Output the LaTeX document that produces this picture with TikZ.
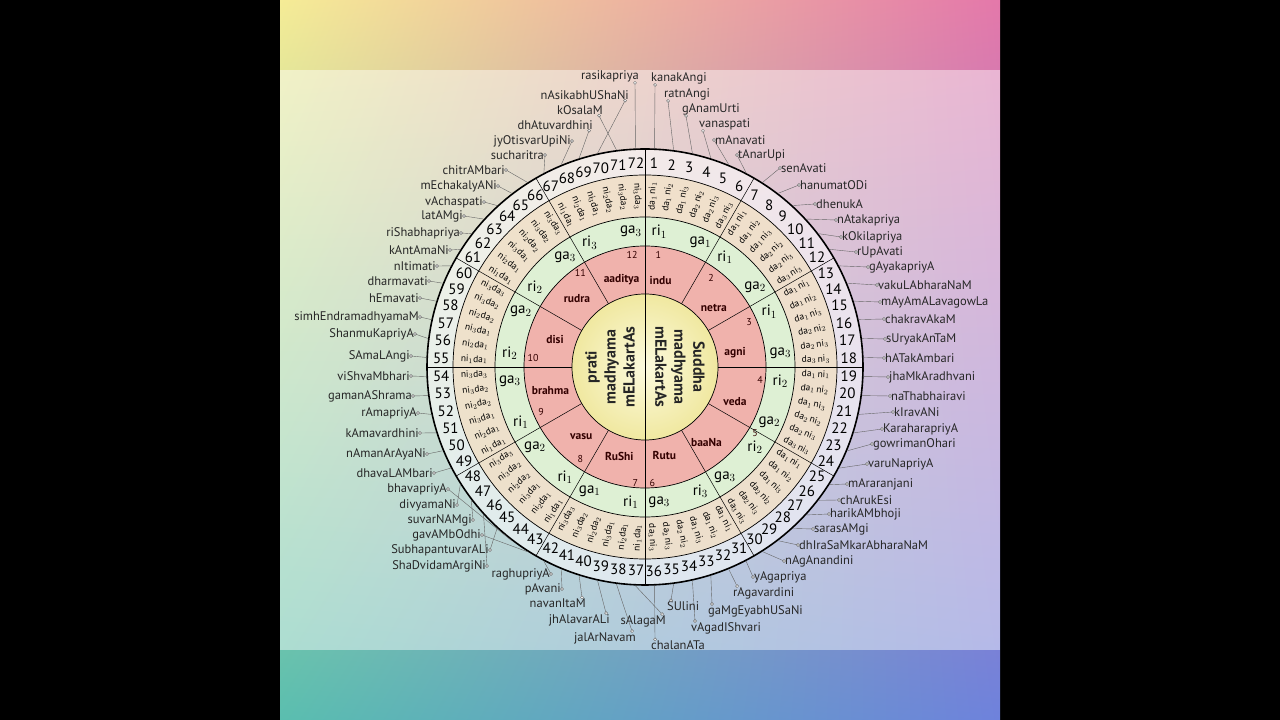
\documentclass[tikz,border=0pt]{standalone}
\usepackage{fontspec}
\setmainfont{PT Sans}
\usetikzlibrary{shadings}
\definecolor{cUL}{RGB}{245,236,150}
\definecolor{cUR}{RGB}{228,120,170}
\definecolor{cLL}{RGB}{90,190,175}
\definecolor{cLR}{RGB}{110,130,220}
\definecolor{ringA}{RGB}{240,222,196}
\definecolor{ringB}{RGB}{222,240,212}
\definecolor{ringC}{RGB}{240,178,172}
\definecolor{cenIn}{RGB}{252,250,222}
\definecolor{cenOut}{RGB}{240,232,160}
\begin{document}
\begin{tikzpicture}[x=1pt,y=1pt,
  lab/.style={inner sep=1pt,font=\fontsize{12.5}{13}\selectfont,text=black!85},
  num/.style={inner sep=0pt,font=\fontsize{15}{16}\selectfont},
  dn/.style={inner sep=0pt,font=\fontsize{9.5}{10}\selectfont},
  rg/.style={inner sep=0pt,font=\fontsize{15}{16}\selectfont},
  cname/.style={inner sep=0pt,font=\bfseries\fontsize{11.5}{12}\selectfont,text=black!80!red},
  cnum/.style={inner sep=0pt,font=\fontsize{10}{11}\selectfont,text=black!80!red},
  ring/.style={line width=0.7pt},
  lead/.style={line width=0.4pt,black!60}]
\useasboundingbox (0,0) rectangle (1280,720);
\fill[black] (0,0) rectangle (1280,720);
\shade[upper left=cUL, upper right=cUR, lower left=cLL, lower right=cLR] (280,0) rectangle (1000,720);
\fill[white,opacity=0.45] (280,70) rectangle (1000,650);
\begin{scope}[shift={(645,353)}]
  \fill[white,opacity=0.55] (0,0) circle (218);
  \fill[ringA,opacity=0.8] (0,0) circle (192);
  \fill[ringB] (0,0) circle (150);
  \fill[ringC] (0,0) circle (121);
  \shade[inner color=cenIn, outer color=cenOut] (0,0) circle (73);
  \draw[line width=1.6pt] (0,0) circle (218);
  \draw[ring] (0,0) circle (192) (0,0) circle (150) (0,0) circle (121) (0,0) circle (73);
  \draw[ring] (0,218) -- (0,-218);
  \draw[ring] (-218,0) -- (-73,0) (73,0) -- (218,0);
  \foreach \t in {30,60,120,150,210,240,300,330} \draw[line width=0.5pt] (\t:73) -- (\t:218);
  \foreach \k in {1,...,72}{
    \pgfmathsetmacro\a{90-(\k-0.5)*5}
    \pgfmathtruncatemacro\j{mod(\k-1,6)}
    \pgfmathtruncatemacro\da{{1,1,1,2,2,3}[\j]}
    \pgfmathtruncatemacro\ni{{1,2,3,2,3,3}[\j]}
    \node[num] (n\k) at (\a:204) {\k};
    \coordinate (e\k) at (\a:219);
    \ifnum\k<37
      \node[dn,rotate=\a] (d\k) at (\a:171) {da$_{\da}$\,ni$_{\ni}$};
    \else
      \pgfmathsetmacro\b{\a+180}
      \node[dn,rotate=\b] (d\k) at (\a:171) {ni$_{\ni}$da$_{\da}$};
    \fi
  }
  \foreach \s in {1,...,12}{
    \pgfmathsetmacro\ao{90-30*(\s-1)}
    \pgfmathtruncatemacro\j{mod(\s-1,6)}
    \pgfmathtruncatemacro\ri{{1,1,1,2,2,3}[\j]}
    \pgfmathtruncatemacro\ga{{1,2,3,2,3,3}[\j]}
    \node[rg] (ri\s) at (\ao-6:136) {ri$_{\ri}$};
    \node[rg] (ga\s) at (\ao-24:136) {ga$_{\ga}$};
  }
  \foreach \nm/\x/\y [count=\i] in {indu/15.6/86.3, netra/68.9/58.8, agni/90/14.7, veda/90/-34.4, baaNa/61.5/-75.8, Rutu/19.3/-88.2, RuShi/-25.7/-89.5, vasu/-63.8/-69.8, brahma/-94.6/-23.9, disi/-90/27.5, rudra/-68/68, aaditya/-23.4/87.2}
    \node[cname] (c\i) at (\x,\y) {\nm};
  \foreach \x/\y [count=\i] in {13.3/112.5, 66/89.5, 104/44.5, 115/-12.9, 110/-65.7, 7.3/-116, -9.6/-116, -64.7/-91.8, -103.8/-45, -112/9.2, -64.7/94, -12.9/112.5}
    \node[cnum] (cn\i) at (\x,\y) {\i};
  \node[rotate=-90,align=center,font=\bfseries\fontsize{16}{19}\selectfont,text=black!85] (sud) at (35,0) {Suddha\\madhyama\\mELakartAs};
  \node[rotate=90,align=center,font=\bfseries\fontsize{16}{19}\selectfont,text=black!85] (pra) at (-35,0) {prati\\madhyama\\mELakartAs};
\end{scope}
% right labels
\foreach \k/\x/\y/\t in {1/650/78/kanakAngi, 2/663/94/ratnAngi, 3/681/109/gAnamUrti, 4/698/124/vanaspati, 5/714/140/mAnavati, 6/737/155/tAnarUpi, 7/780/168/senAvati, 8/799/185/hanumatODi, 9/815/204/dhenukA, 10/836/220/nAtakapriya, 11/841/237/kOkilapriya, 12/856/252/rUpAvati, 13/868/267/gAyakapriyA, 14/877/285/vakuLAbharaNaM, 15/880/302/mAyAmALavagowLa, 16/884/319/chakravAkaM, 17/885/339/sUryakAnTaM, 18/884/358/hATakAmbari, 19/888/377/jhaMkAradhvani, 20/890/396/naThabhairavi, 21/893/412/kIravANi, 22/882/429/KaraharapriyA, 23/872/444/gowrimanOhari, 24/867/464/varuNapriyA, 25/847/484/mAraranjani, 26/839/500/chArukEsi, 27/829/514/harikAMbhoji, 28/813/529/sarasAMgi, 29/798/545/dhIraSaMkarAbharaNaM, 30/784/561/nAgAnandini, 31/753/577/yAgapriya, 32/732/593/rAgavardini, 33/707/611/gaMgEyabhUSaNi, 34/690/628/vAgadIShvari, 35/666/606/SUlini, 36/650/645/chalanATa}{
  \node[lab,anchor=west] (l\k) at (\x,720-\y) {\t};
  \ifnum\y<135 \coordinate (s\k) at ([xshift=5pt]l\k.south west);
  \else\ifnum\y>590 \coordinate (s\k) at ([xshift=5pt]l\k.north west);
  \else \coordinate (s\k) at (l\k.west);\fi\fi
  \draw[lead] (s\k) -- (e\k);
  \draw[lead,fill=white] (s\k) circle (1.5);
}
% left labels
\foreach \k/\x/\y/\t in {37/667/621/sAlagaM, 38/637/638/jalArNavam, 39/611/620/jhAlavarALi, 40/587/603/navanItaM, 41/562/589/pAvani, 42/551/574/raghupriyA, 46/487/566/ShaDvidamArgiNi, 45/490/550/SubhapantuvarALi, 43/482/535/gavAMbOdhi, 47/473/520/suvarNAMgi, 48/457/505/divyamaNi, 44/448/489/bhavapriyA, 49/434/473/dhavaLAMbari, 50/427/454/nAmanArAyaNi, 51/420/433/kAmavardhini, 52/418/413/rAmapriyA, 53/413/396/gamanAShrama, 54/411/376/viShvaMbhari, 55/411/356/SAmaLAngi, 56/415/334/ShanmuKapriyA, 57/420/317/simhEndramadhyamaM, 58/420/298/hEmavati, 59/429/281/dharmavati, 60/437/266/nItimati, 61/450/250/kAntAmaNi, 62/461/233/riShabhapriya, 63/464/216/latAMgi, 64/484/202/vAchaspati, 65/498/186/mEchakalyANi, 66/506/170/chitrAMbari, 67/545/155/sucharitra, 68/572/141/jyOtisvarUpiNi, 69/594/125/dhAtuvardhini, 71/604/110/kOsalaM, 70/630/95/nAsikabhUShaNi, 72/640/76/rasikapriya}{
  \node[lab,anchor=east] (l\k) at (\x,720-\y) {\t};
  \ifnum\y<135 \coordinate (s\k) at ([xshift=-5pt]l\k.south east);
  \else\ifnum\y>590 \coordinate (s\k) at ([xshift=-5pt]l\k.north east);
  \else \coordinate (s\k) at (l\k.east);\fi\fi
  \draw[lead] (s\k) -- (e\k);
  \draw[lead,fill=white] (s\k) circle (1.5);
}
\end{tikzpicture}
\end{document}
